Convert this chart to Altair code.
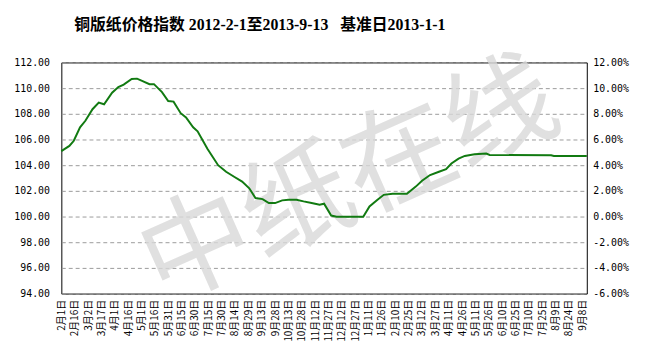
import altair as alt
import pandas as pd

# Day index counted from 2012-02-01 (2013-09-13 = day 590)
days = [0, 9, 14, 21, 27, 35, 42, 48, 57, 64, 70, 79, 85, 90, 99, 104, 113, 120, 126, 134,
        140, 148, 153, 164, 176, 185, 194, 203, 211, 218, 226, 233, 240, 248, 255, 264, 272,
        281, 290, 295, 303, 309, 339, 346, 355, 362, 372, 388, 398, 405, 414, 424, 432, 438,
        446, 453, 464, 477, 481, 550, 553, 590]
index_values = [105.1, 105.5, 105.9, 106.95, 107.46, 108.36, 108.87, 108.74, 109.64, 110.08,
                110.28, 110.72, 110.74, 110.59, 110.31, 110.31, 109.69, 109.0, 108.95, 108.05,
                107.72, 106.95, 106.64, 105.28, 104.0, 103.49, 103.1, 102.72, 102.2, 101.44,
                101.36, 101.05, 101.05, 101.26, 101.31, 101.31, 101.18, 101.05, 100.92, 101.0,
                100.08, 99.98, 99.98, 100.79, 101.31, 101.69, 101.77, 101.77, 102.33, 102.79,
                103.23, 103.49, 103.69, 104.13, 104.51, 104.72, 104.85, 104.9, 104.79, 104.77,
                104.72, 104.72]

x_labels = ["2月1日", "2月16日", "3月2日", "3月17日", "4月1日", "4月16日", "5月1日", "5月16日",
            "5月31日", "6月15日", "6月30日", "7月15日", "7月30日", "8月14日", "8月29日", "9月13日",
            "9月28日", "10月13日", "10月28日", "11月12日", "11月27日", "12月12日", "12月27日",
            "1月11日", "1月26日", "2月10日", "2月25日", "3月12日", "3月27日", "4月11日", "4月26日",
            "5月11日", "5月26日", "6月10日", "6月25日", "7月10日", "7月25日", "8月9日", "8月24日",
            "9月8日"]
x_tick_days = [15 * i for i in range(len(x_labels))]
y_ticks = [94, 96, 98, 100, 102, 104, 106, 108, 110, 112]

title_text = "铜版纸价格指数\u00a02012-2-1至2013-9-13\u00a0\u00a0\u00a0基准日2013-1-1"
watermark = "中纸在线"

df = pd.DataFrame({"day": days, "value": index_values})

label_array = "[" + ",".join("'" + s + "'" for s in x_labels) + "]"

x_enc = alt.X("day:Q",
              scale=alt.Scale(domain=[0, 590], nice=False, zero=False),
              axis=alt.Axis(values=x_tick_days, labelExpr=label_array + "[round(datum.value/15)]",
                            labelAngle=270, labelFont="Noto Sans CJK SC", labelFontSize=10,
                            labelColor="#000000", tickSize=0, labelPadding=6, grid=False,
                            domain=False, title=None, labelOverlap=False, labelBound=False,
                            labelFlush=False))

y_scale = alt.Scale(domain=[94, 112], nice=False, zero=False)

wm = alt.Chart(alt.Data(values=[{}])).mark_text(
    text=watermark, font="Noto Sans CJK SC", fontSize=112, angle=336,
    color="#d9d9d9", opacity=0.8, align="center", baseline="middle"
).encode(x=alt.value(292), y=alt.value(122))

line = alt.Chart(df).mark_line(color="#117a11", strokeWidth=2).encode(
    x=x_enc,
    y=alt.Y("value:Q", scale=y_scale,
            axis=alt.Axis(values=y_ticks, format=".2f", orient="left", grid=True,
                          gridDash=[4, 3], gridColor="#9a9a9a", gridWidth=1,
                          tickSize=0, labelPadding=12, labelFont="DejaVu Sans Mono",
                          labelFontSize=10, labelColor="#000000", domain=False, title=None))
)

right = alt.Chart(df).mark_line(strokeOpacity=0).encode(
    x=x_enc,
    y=alt.Y("value:Q", scale=y_scale,
            axis=alt.Axis(values=y_ticks, orient="right", grid=False, tickSize=0,
                          labelPadding=6, labelFont="DejaVu Sans Mono", labelFontSize=10,
                          labelColor="#000000", domain=False, title=None,
                          labelExpr="(datum.value < 100 ? '-' : '') + format(abs(datum.value - 100), '.2f') + '%'"))
)

chart = alt.layer(wm, line, right).resolve_scale(y="independent").properties(
    width=532, height=234,
    autosize=alt.AutoSizeParams(type="none"),
    padding={"left": 54, "top": 53, "right": 65, "bottom": 56},
    background="#ffffff",
    title=alt.TitleParams(title_text, font="Liberation Serif, Noto Sans CJK SC", fontSize=16,
                          fontWeight="bold", color="#000000", anchor="middle", dx=-65, dy=14,
                          offset=24),
).configure_view(stroke="#000000", strokeWidth=1)

chart.save("out.html", embed_options={"renderer": "svg", "actions": False})
